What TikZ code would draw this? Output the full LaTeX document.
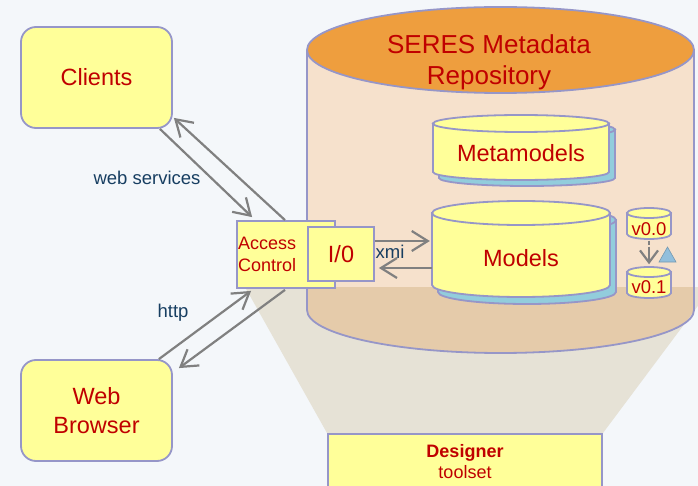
\documentclass[tikz,border=0pt]{standalone}
\usepackage{fontspec}
\setmainfont{Liberation Sans}
\usepackage{tikz}
\usetikzlibrary{arrows.meta,calc}

\definecolor{lav}{RGB}{150,150,200}
\definecolor{yel}{RGB}{255,255,153}
\definecolor{darkred}{RGB}{192,0,0}
\definecolor{labblue}{RGB}{23,62,97}
\definecolor{wiregrey}{RGB}{128,128,128}
\definecolor{shadowblue}{RGB}{146,205,220}
\definecolor{topor}{RGB}{238,158,62}
\definecolor{peach}{RGB}{246,225,204}
\definecolor{tan}{RGB}{229,203,170}
\definecolor{trapgrey}{RGB}{230,226,214}
\definecolor{bgtint}{RGB}{244,247,250}
\definecolor{triblue}{RGB}{146,191,220}

\begin{document}
\begin{tikzpicture}[x=1pt, y=-1pt,
  box/.style={draw=lav, line width=1.8pt, fill=yel, text=darkred},
  client/.style={box, rounded corners=15pt, minimum width=151pt, minimum height=101pt, align=center, font=\fontsize{23.5}{29}\selectfont},
  drum/.style={draw=lav, line width=1.8pt},
  dbtext/.style={text=darkred, inner sep=0pt, font=\fontsize{23.5}{28}\selectfont},
  lbl/.style={text=labblue, inner sep=0pt, font=\fontsize{18.5}{20}\selectfont},
  wire/.style={draw=wiregrey, line width=2.2pt, -{Straight Barb[length=16pt,width=20pt]}}]
\useasboundingbox (0,0) rectangle (698,486);
\clip (0,0) rectangle (698,486);
\fill[bgtint] (0,0) rectangle (698,486);

% repository
\fill[peach] (307,50) -- (307,310) arc[start angle=180, end angle=360, x radius=193.5pt, y radius=43pt] -- (694,50) -- cycle;
\fill[trapgrey] (245,287) -- (712,287) -- (603,433) -- (327,433) -- cycle;
\begin{scope}
\clip (307,50) -- (307,310) arc[start angle=180, end angle=360, x radius=193.5pt, y radius=43pt] -- (694,50) -- cycle;
\fill[tan] (245,287) -- (712,287) -- (603,433) -- (327,433) -- cycle;
\end{scope}
\draw[drum] (307,50) -- (307,310) arc[start angle=180, end angle=360, x radius=193.5pt, y radius=43pt] -- (694,50);
\filldraw[drum, fill=topor] (500.5,50) ellipse[x radius=193.5pt, y radius=43pt];
\node[dbtext, align=center, font=\fontsize{26}{31}\selectfont] (repo) at (489,62) {SERES Metadata\\Repository};

% metamodels
\filldraw[drum, fill=shadowblue] (439,129.5) -- (439,178) arc[start angle=180, end angle=360, x radius=88pt, y radius=8pt] -- (615,129.5) -- cycle;
\filldraw[drum, fill=shadowblue] (527,129.5) ellipse[x radius=88pt, y radius=8.5pt];
\filldraw[drum, fill=yel] (433,123.5) -- (433,172) arc[start angle=180, end angle=360, x radius=88pt, y radius=8pt] -- (609,123.5) -- cycle;
\filldraw[drum, fill=yel] (521,123.5) ellipse[x radius=88pt, y radius=8.5pt];
\node[dbtext] (metam) at (521,153) {Metamodels};

% models
\filldraw[drum, fill=shadowblue] (438,220) -- (438,292) arc[start angle=180, end angle=360, x radius=89pt, y radius=12pt] -- (616,220) -- cycle;
\filldraw[drum, fill=shadowblue] (527,220) ellipse[x radius=89pt, y radius=12pt];
\filldraw[drum, fill=yel] (432,213) -- (432,285) arc[start angle=180, end angle=360, x radius=89pt, y radius=12pt] -- (610,213) -- cycle;
\filldraw[drum, fill=yel] (521,213) ellipse[x radius=89pt, y radius=12pt];
\node[dbtext, minimum width=178pt] (models) at (521,258) {Models};

% versions
\filldraw[drum, fill=yel] (627,213) -- (627,234) arc[start angle=180, end angle=360, x radius=22pt, y radius=5pt] -- (671,213) -- cycle;
\filldraw[drum, fill=yel] (649,213) ellipse[x radius=22pt, y radius=5pt];
\node[dbtext, font=\fontsize{18.5}{22}\selectfont] (v00) at (649,229) {v0.0};
\filldraw[drum, fill=yel] (627,272) -- (627,293) arc[start angle=180, end angle=360, x radius=22pt, y radius=5pt] -- (671,272) -- cycle;
\filldraw[drum, fill=yel] (649,272) ellipse[x radius=22pt, y radius=5pt];
\node[dbtext, font=\fontsize{18.5}{22}\selectfont] (v01) at (649,287) {v0.1};
\draw[wire, dash pattern=on 4pt off 2pt on 40pt off 0pt, -{Straight Barb[length=12pt,width=18pt]}] ($(v00.south)+(0,5)$) -- ($(v01.north)+(0,-16)$);
\filldraw[fill=triblue, draw=triblue!80!black, line width=0.6pt] (659,262) -- (676,262) -- (667.5,247) -- cycle;

% designer
\node[box, anchor=north, minimum width=274pt, minimum height=56pt, align=center, font=\fontsize{18}{21}\selectfont] (designer) at (465,433) {\textbf{Designer}\\toolset};

% access
\node[box, minimum width=98pt, minimum height=67pt, text width=96pt, inner sep=1pt, align=left, font=\fontsize{18}{22}\selectfont] (access) at (286,254.5) {Access\\Control};
\node[box, minimum width=66pt, minimum height=54pt, font=\fontsize{23.5}{28}\selectfont] (io) at (341,254) {I/0};

\node[client] (clients) at (96.5,77.5) {Clients};
\node[client] (webb) at (96.5,410.5) {Web\\Browser};

\draw[wire] ($(clients.south east)+(-13,0)$) -- ($(access.north west)+(16,-3)$);
\draw[wire] ($(access.north)+(-1,0)$) -- ($(clients.south east)+(1,-11)$);
\draw[wire] ($(webb.north east)+(-14,0)$) -- ($(access.south west)+(15,2)$);
\draw[wire] ($(access.south)+(-1,1)$) -- ($(webb.north east)+(6,9)$);
\draw[wire] ($(io.east)+(0,-13)$) -- ($(models.west)+(-2,-17)$);
\draw[wire] ($(models.west)+(0,10)$) -- ($(io.east)+(4,14)$);

\node[lbl] (ws) at (147,178) {web services};
\node[lbl] (http) at (173,313) {http};
\node[lbl] (xmi) at (390,252) {xmi};
\end{tikzpicture}
\end{document}
